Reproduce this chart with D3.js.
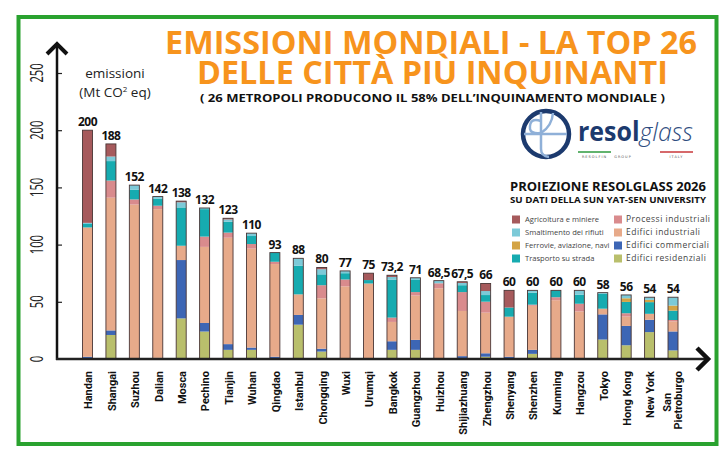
<!DOCTYPE html>
<html><head><meta charset="utf-8">
<script src="https://cdn.jsdelivr.net/npm/d3@7"></script>
<style>body{margin:0;background:#fff;} svg{display:block;}</style>
</head><body><svg id="c" width="726" height="457"></svg>
<script>
const cities = ["Handan","Shangai","Suzhou","Dalian","Mosca","Pechino","Tianjin","Wuhan","Qingdao","Istanbul","Chongqing","Wuxi","Urumqi","Bangkok","Guangzhou","Huizhou","Shijiazhuang","Zhengzhou","Shenyang","Shenzhen","Kunming","Hangzou","Tokyo","Hong Kong","New York","San Pietroburgo"];
const totalLabels = ["200","188","152","142","138","132","123","110","93","88","80","77","75","73,2","71","68,5","67,5","66","60","60","60","60","58","56","54","54"];
// stacked series, bottom to top
const edificiResidenziali = [0,21,0,0,35.5,24,8,8,0,30,6.5,0,0,8,8,0,0,2,0,4.5,0,0,17,12,23.5,7.5];
const edificiCommerciali  = [2,4,0,1,51,7.5,5,2,2,8.5,2.5,0,0,7.5,8.7,0,2.5,3,2,3.5,0,0,22,16.9,10.8,16.6];
const edificiIndustriali  = [113,116,135,130,12.5,66.5,93,86.5,81,18,44,63.5,66,16.9,38.8,61.8,39.5,35.5,35,38.5,51.4,41.6,5,8.2,5.2,8.8];
const processiIndustriali = [0,15,4.5,3,0,9,4.5,4,2,0,11.5,6,0,3.8,3,4.4,16.5,9.6,0,1,2.6,6.7,0,2.9,0,1.2];
const trasportoStrada     = [3,17,8.5,6,33.5,24,9.5,7,8,25,9.5,5.5,3,33,11,0,6,5.8,8,10.5,6,7.9,13,9.9,10.2,8.2];
const ferrovieAviazione   = [0,0,0,0,0,0,0,0,0,0,0,0,0,0,0,0,0,0,0,0,0,0,0,3.2,2,4.4];
const smaltimentoRifiuti  = [1,4,4,2,4.5,1,2,2.5,0,6.5,4.5,2,0,2.5,1.5,2.3,2,3.5,0,2,0,3.8,1,2.9,2.3,7.3];
const agricolturaMiniere  = [81,11,0,0,1,0,1,0,0,0,1.5,0,6,1.5,0,0,1,6.6,15,0,0,0,0,0,0,0];
const yTicks = [0,50,100,150,200,250];
const legendCol1 = ["Agricoltura e miniere","Smaltimento dei rifiuti","Ferrovie, aviazione, navi","Trasporto su strada"];
const legendCol2 = ["Processi industriali","Edifici industriali","Edifici commerciali","Edifici residenziali"];

const keys = ["res","comm","ind","proc","road","rail","waste","agri"];
const seriesArrays = {res:edificiResidenziali, comm:edificiCommerciali, ind:edificiIndustriali, proc:processiIndustriali, road:trasportoStrada, rail:ferrovieAviazione, waste:smaltimentoRifiuti, agri:agricolturaMiniere};
const colors = {agri:"#a65a5c", waste:"#7ccad8", rail:"#d4a445", road:"#16abb0", proc:"#d98b8d", ind:"#e7aa8a", comm:"#3d66b5", res:"#b9bf6c"};
const col1Keys = ["agri","waste","rail","road"], col2Keys = ["proc","ind","comm","res"];

const table = cities.map((c,i)=>{const o={city:c}; keys.forEach(k=>o[k]=seriesArrays[k][i]); return o;});
const stack = d3.stack().keys(keys)(table);

const svg = d3.select("#c");
svg.append("rect").attr("width",726).attr("height",457).attr("fill","#fff");

const y = d3.scaleLinear().domain([0,250]).range([359,73]);
const x = d3.scaleBand().domain(cities).range([75.8, 75.8+26*23.42]).padding(0);
const cx = c => x(c) + x.bandwidth()/2;
const bw = 10;

// bars
const g = svg.append("g");
stack.forEach(layer=>{
  g.selectAll(null).data(layer.filter(d=>d[1]-d[0]>0)).join("rect")
    .attr("x",d=>cx(d.data.city)-bw/2).attr("width",bw)
    .attr("y",d=>y(d[1])).attr("height",d=>y(d[0])-y(d[1]))
    .attr("fill",colors[layer.key]);
});
const totals = table.map(d=>keys.reduce((s,k)=>s+d[k],0));
g.selectAll(null).data(cities).join("rect")
  .attr("x",c=>cx(c)-bw/2).attr("width",bw)
  .attr("y",(c,i)=>y(totals[i])).attr("height",(c,i)=>y(0)-y(totals[i]))
  .attr("fill","none").attr("stroke","#4a3636").attr("stroke-width",0.9);
g.selectAll(null).data(cities).join("text")
  .attr("x",c=>cx(c)).attr("y",(c,i)=>y(totals[i])-4)
  .attr("text-anchor","middle").attr("font-family","Open Sans").attr("font-weight",700)
  .attr("font-size",12).attr("letter-spacing",-0.5).attr("fill","#111").text((c,i)=>totalLabels[i]);

// y axis
const ax = svg.append("g").attr("transform","translate(57,0)")
  .call(d3.axisLeft(y).tickValues(yTicks).tickSizeInner(-5).tickSizeOuter(0).tickFormat(""));
ax.select(".domain").remove();
ax.selectAll(".tick line").attr("stroke","#222").attr("stroke-width",1.2).filter(d=>d===0).remove();
svg.append("g").selectAll(null).data(yTicks).join("text")
  .attr("transform",d=>`translate(37,${y(d)}) rotate(-90) scale(0.62,1)`)
  .attr("dy","0.35em").attr("text-anchor","middle")
  .attr("font-family","Open Sans").attr("font-size",18).attr("fill","#222").text(d=>d);
svg.append("line").attr("x1",57).attr("x2",57).attr("y1",y(0)+1).attr("y2",45).attr("stroke","#111").attr("stroke-width",2.5);
svg.append("path").attr("d","M47,54 L57,44 L67,54").attr("fill","none").attr("stroke","#111").attr("stroke-width",4);
// x axis
svg.append("line").attr("x1",56).attr("x2",705).attr("y1",y(0)).attr("y2",y(0)).attr("stroke","#222").attr("stroke-width",2.5);
svg.append("path").attr("d","M697,348 L708,359 L697,370").attr("fill","none").attr("stroke","#111").attr("stroke-width",4.5);

// city labels
const lab = svg.append("g");
cities.forEach(c=>{
  if(c==="San Pietroburgo"){
    const t2 = lab.append("text").attr("transform",`translate(${cx(c)+5},371) rotate(-90)`)
      .attr("dy","0.35em").attr("text-anchor","end").attr("font-family","Roboto").attr("font-weight",700)
      .attr("font-size",11).attr("fill","#111").text("Pietroburgo");
    const L = t2.node().getComputedTextLength();
    lab.append("text").attr("transform",`translate(${cx(c)-6},${371+L/2+2}) rotate(-90)`)
      .attr("dy","0.35em").attr("text-anchor","middle").attr("font-family","Roboto").attr("font-weight",700)
      .attr("font-size",11).attr("fill","#111").text("San");
  } else {
    lab.append("text").attr("transform",`translate(${cx(c)+1},371) rotate(-90)`)
      .attr("dy","0.35em").attr("text-anchor","end").attr("font-family","Roboto").attr("font-weight",700)
      .attr("font-size",11).attr("fill","#111").text(c);
  }
});

// titles
svg.append("text").attr("x",431).attr("y",54).attr("text-anchor","middle")
  .attr("font-family","Open Sans").attr("font-weight",700).attr("font-size",33).attr("fill","#f7941d")
  .attr("textLength",532).attr("lengthAdjust","spacingAndGlyphs").text("EMISSIONI MONDIALI - LA TOP 26");
svg.append("text").attr("x",432.5).attr("y",84).attr("text-anchor","middle")
  .attr("font-family","Open Sans").attr("font-weight",700).attr("font-size",31.5).attr("fill","#f7941d")
  .attr("textLength",471).attr("lengthAdjust","spacingAndGlyphs").text("DELLE CITTÀ PIÙ INQUINANTI");
svg.append("text").attr("x",432.5).attr("y",102).attr("text-anchor","middle")
  .attr("font-family","Open Sans").attr("font-weight",700).attr("font-size",10.5).attr("fill","#111")
  .attr("textLength",465).attr("lengthAdjust","spacingAndGlyphs").text("( 26 METROPOLI PRODUCONO IL 58% DELL’INQUINAMENTO MONDIALE )");

// axis unit
svg.append("text").attr("x",115).attr("y",78).attr("text-anchor","middle")
  .attr("font-family","Open Sans").attr("font-size",13.5).attr("fill","#222").text("emissioni");
const unit = svg.append("text").attr("x",115).attr("y",97).attr("text-anchor","middle")
  .attr("font-family","Open Sans").attr("font-size",13.5).attr("fill","#222");
unit.append("tspan").text("(Mt CO");
unit.append("tspan").attr("font-size",8).attr("dy",-5).text("2");
unit.append("tspan").attr("dy",5).text(" eq)");

// logo
const logo = svg.append("g");
logo.append("circle").attr("cx",546).attr("cy",134).attr("r",23).attr("fill","none").attr("stroke","#1c3a6e").attr("stroke-width",4.5);
logo.append("path").attr("d","M541,112 L541,149 Q541,156 549,157").attr("fill","none").attr("stroke","#8fb0d8").attr("stroke-width",2.5);
logo.append("path").attr("d","M524,134 L567,134").attr("fill","none").attr("stroke","#8fb0d8").attr("stroke-width",2.5);
logo.append("path").attr("d","M541,121 Q529,117 530,129 Q531,134 541,133").attr("fill","none").attr("stroke","#8fb0d8").attr("stroke-width",2.5);
logo.append("path").attr("d","M553,113 Q552,126 541,133").attr("fill","none").attr("stroke","#8fb0d8").attr("stroke-width",2.5);
const lt = logo.append("text").attr("x",578).attr("y",141).attr("font-size",26)
  .attr("textLength",115).attr("lengthAdjust","spacingAndGlyphs");
lt.append("tspan").attr("font-family","Open Sans").attr("font-weight",700).attr("fill","#1c3a6e").text("resol");
lt.append("tspan").attr("font-family","Open Sans").attr("font-weight",300).attr("font-style","italic").attr("fill","#2f4d80").text("glass");
logo.append("line").attr("x1",578).attr("x2",611).attr("y1",152).attr("y2",152).attr("stroke","#2e9a3e").attr("stroke-width",1.5);
logo.append("line").attr("x1",660).attr("x2",693).attr("y1",152).attr("y2",152).attr("stroke","#c8373a").attr("stroke-width",1.5);
[["RESOLFIN",594.5],["GROUP",623],["ITALY",676.5]].forEach(([t,xx])=>{
  logo.append("text").attr("x",xx).attr("y",158).attr("text-anchor","middle").attr("font-family","DejaVu Sans")
    .attr("font-size",3.5).attr("letter-spacing",1).attr("fill","#555").text(t);
});

// legend
svg.append("text").attr("x",608).attr("y",190.5).attr("text-anchor","middle").attr("font-family","Open Sans")
  .attr("font-weight",700).attr("font-size",12.5).attr("fill","#111").attr("textLength",196).attr("lengthAdjust","spacingAndGlyphs")
  .text("PROIEZIONE RESOLGLASS 2026");
svg.append("text").attr("x",608).attr("y",203).attr("text-anchor","middle").attr("font-family","Open Sans")
  .attr("font-weight",700).attr("font-size",9.5).attr("fill","#111").attr("textLength",196).attr("lengthAdjust","spacingAndGlyphs")
  .text("SU DATI DELLA SUN YAT-SEN UNIVERSITY");
const rowsY = [219.5,232.5,245.5,258.5];
legendCol1.forEach((t,i)=>{
  svg.append("rect").attr("x",512).attr("y",rowsY[i]-4).attr("width",8).attr("height",8).attr("fill",colors[col1Keys[i]]);
  svg.append("text").attr("x",525).attr("y",rowsY[i]).attr("dy","0.35em").attr("font-family","Open Sans")
    .attr("font-size",7.6).attr("fill","#444").text(t);
});
legendCol2.forEach((t,i)=>{
  svg.append("rect").attr("x",614).attr("y",rowsY[i]-4).attr("width",8).attr("height",8).attr("fill",colors[col2Keys[i]]);
  svg.append("text").attr("x",626).attr("y",rowsY[i]).attr("dy","0.35em").attr("font-family","Open Sans")
    .attr("font-size",8.5).attr("letter-spacing",0.5).attr("fill","#444").text(t);
});

// green frame
svg.append("rect").attr("x",18.5).attr("y",17).attr("width",698).attr("height",427)
  .attr("fill","none").attr("stroke","#2aa22f").attr("stroke-width",4);
</script></body></html>
